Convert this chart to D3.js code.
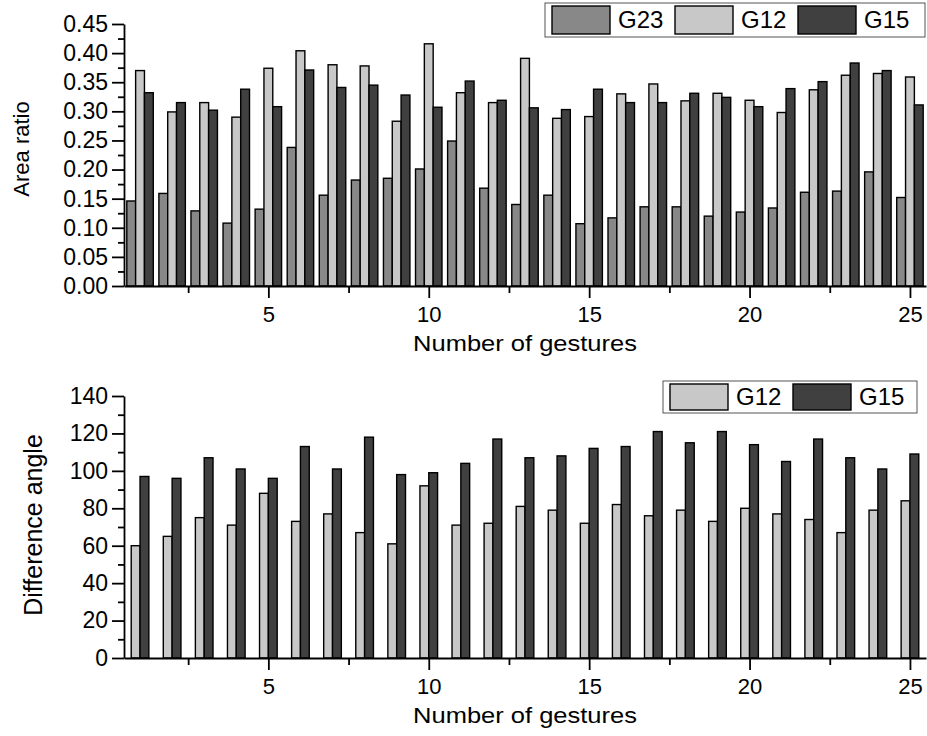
<!DOCTYPE html>
<html>
<head>
<meta charset="utf-8">
<script src="https://cdn.jsdelivr.net/npm/d3@7"></script>
<style>
  body { margin: 0; background: #fff; }
  svg text { font-family: "Liberation Sans", Arial, sans-serif; fill: #000; }
</style>
</head>
<body>
<div id="chart"></div>
<script>
// gesture index on the x axis
var gestures = [1, 2, 3, 4, 5, 6, 7, 8, 9, 10, 11, 12, 13, 14, 15, 16, 17, 18, 19, 20, 21, 22, 23, 24, 25];

// top panel: area ratio
var areaG23 = [0.146, 0.159, 0.129, 0.108, 0.132, 0.238, 0.156, 0.182, 0.185, 0.201, 0.249, 0.168, 0.140,
               0.156, 0.107, 0.117, 0.136, 0.136, 0.120, 0.127, 0.134, 0.161, 0.163, 0.196, 0.152];
var areaG12 = [0.370, 0.299, 0.315, 0.290, 0.374, 0.404, 0.380, 0.378, 0.283, 0.416, 0.332, 0.315, 0.391,
               0.288, 0.291, 0.330, 0.347, 0.318, 0.331, 0.319, 0.298, 0.337, 0.362, 0.365, 0.359];
var areaG15 = [0.332, 0.315, 0.302, 0.338, 0.308, 0.371, 0.341, 0.345, 0.328, 0.307, 0.352, 0.319, 0.306,
               0.303, 0.338, 0.315, 0.315, 0.331, 0.324, 0.308, 0.339, 0.351, 0.383, 0.370, 0.311];

// bottom panel: difference angle
var angleG12 = [60, 65, 75, 71, 88, 73, 77, 67, 61, 92, 71, 72, 81, 79, 72, 82, 76, 79, 73, 80, 77, 74, 67, 79, 84];
var angleG15 = [97, 96, 107, 101, 96, 113, 101, 118, 98, 99, 104, 117, 107, 108, 112, 113, 121, 115, 121, 114, 105, 117, 107, 101, 109];

var xTicks = [5, 10, 15, 20, 25];
var xMinorTicks = [2.5, 7.5, 12.5, 17.5, 22.5];
var areaTicks = [0, 0.05, 0.10, 0.15, 0.20, 0.25, 0.30, 0.35, 0.40, 0.45];
var angleTicks = [0, 20, 40, 60, 80, 100, 120, 140];

var topNames = ["G23", "G12", "G15"];
var bottomNames = ["G12", "G15"];
var colors = { G23: "#888888", G12: "#c8c8c8", G15: "#404040" };

var width = 927, height = 736;
var svg = d3.select("#chart").append("svg")
  .attr("width", width)
  .attr("height", height);

var x = d3.scaleLinear().domain([0.5, 25.5]).range([124, 926]);
var barW = 0.275;

function drawPanel(opts) {
  var y = d3.scaleLinear().domain(opts.domain).range([opts.bottom, opts.top]);
  var g = svg.append("g");

  // bars
  opts.series.forEach(function (s, k) {
    g.append("g")
      .selectAll("rect")
      .data(s.values)
      .enter()
      .append("rect")
      .attr("x", function (d, i) { return x(gestures[i] - opts.series.length * barW / 2 + k * barW); })
      .attr("width", x(barW) - x(0))
      .attr("y", function (d) { return y(d); })
      .attr("height", function (d) { return y(0) - y(d); })
      .attr("fill", colors[s.name])
      .attr("stroke", "#000")
      .attr("stroke-width", 1.4);
  });

  // y axis
  g.append("g")
    .attr("transform", "translate(124,0)")
    .call(d3.axisLeft(y).tickValues(opts.minor).tickSize(6).tickSizeOuter(0).tickFormat(""))
    .call(function (a) { a.select(".domain").remove(); });
  var ya = g.append("g")
    .attr("transform", "translate(124,0)")
    .call(d3.axisLeft(y).tickValues(opts.ticks).tickSize(12).tickSizeOuter(0).tickPadding(4).tickFormat(opts.format));
  ya.selectAll("text").style("font-size", "23px");

  // x axis
  g.append("g")
    .attr("transform", "translate(0," + opts.bottom + ")")
    .call(d3.axisBottom(x).tickValues(xMinorTicks).tickSize(7).tickSizeOuter(0).tickFormat(""))
    .call(function (a) { a.select(".domain").remove(); });
  var xa = g.append("g")
    .attr("transform", "translate(0," + opts.bottom + ")")
    .call(d3.axisBottom(x).tickValues(xTicks).tickSize(12).tickSizeOuter(0).tickPadding(8));
  xa.selectAll("text").style("font-size", "22px");

  svg.selectAll(".domain, .tick line").attr("stroke", "#000").attr("stroke-width", 1.8);

  // axis titles
  g.append("text")
    .attr("text-anchor", "middle")
    .attr("transform", "translate(525," + (opts.bottom + 65) + ") scale(1,0.86)")
    .style("font-size", "25.5px")
    .text("Number of gestures");

  g.append("text")
    .attr("text-anchor", "middle")
    .attr("transform", "translate(" + opts.titleX + "," + opts.titleY + ") rotate(-90)")
    .style("font-size", opts.titleSize)
    .text(opts.yTitle);

  // legend
  var lg = g.append("g");
  lg.append("rect")
    .attr("x", opts.legend.x).attr("y", opts.legend.y)
    .attr("width", opts.legend.w).attr("height", opts.legend.h)
    .attr("fill", "#fff").attr("stroke", "#555").attr("stroke-width", 1);
  opts.series.forEach(function (s, k) {
    var lx = opts.legend.x + 7 + k * 123;
    lg.append("rect")
      .attr("x", lx).attr("y", opts.legend.y + 3)
      .attr("width", 58).attr("height", opts.legend.h - 6)
      .attr("fill", colors[s.name]).attr("stroke", "#000").attr("stroke-width", 1.4);
    lg.append("text")
      .attr("x", lx + 66)
      .attr("y", opts.legend.y + opts.legend.h / 2 + 8)
      .style("font-size", "24px")
      .text(s.name);
  });
}

drawPanel({
  domain: [0, 0.45], top: 24, bottom: 286,
  ticks: areaTicks,
  minor: d3.range(0.025, 0.45, 0.05),
  format: d3.format(".2f"),
  series: topNames.map(function (n) { return { name: n, values: { G23: areaG23, G12: areaG12, G15: areaG15 }[n] }; }),
  yTitle: "Area ratio", titleX: 29, titleY: 149, titleSize: "22px",
  legend: { x: 545, y: 3, w: 380, h: 34 }
});

drawPanel({
  domain: [0, 140], top: 396, bottom: 658,
  ticks: angleTicks,
  minor: d3.range(10, 140, 20),
  format: d3.format("d"),
  series: bottomNames.map(function (n) { return { name: n, values: { G12: angleG12, G15: angleG15 }[n] }; }),
  yTitle: "Difference angle", titleX: 42, titleY: 525, titleSize: "25px",
  legend: { x: 663, y: 381, w: 254, h: 32 }
});
</script>
</body>
</html>
